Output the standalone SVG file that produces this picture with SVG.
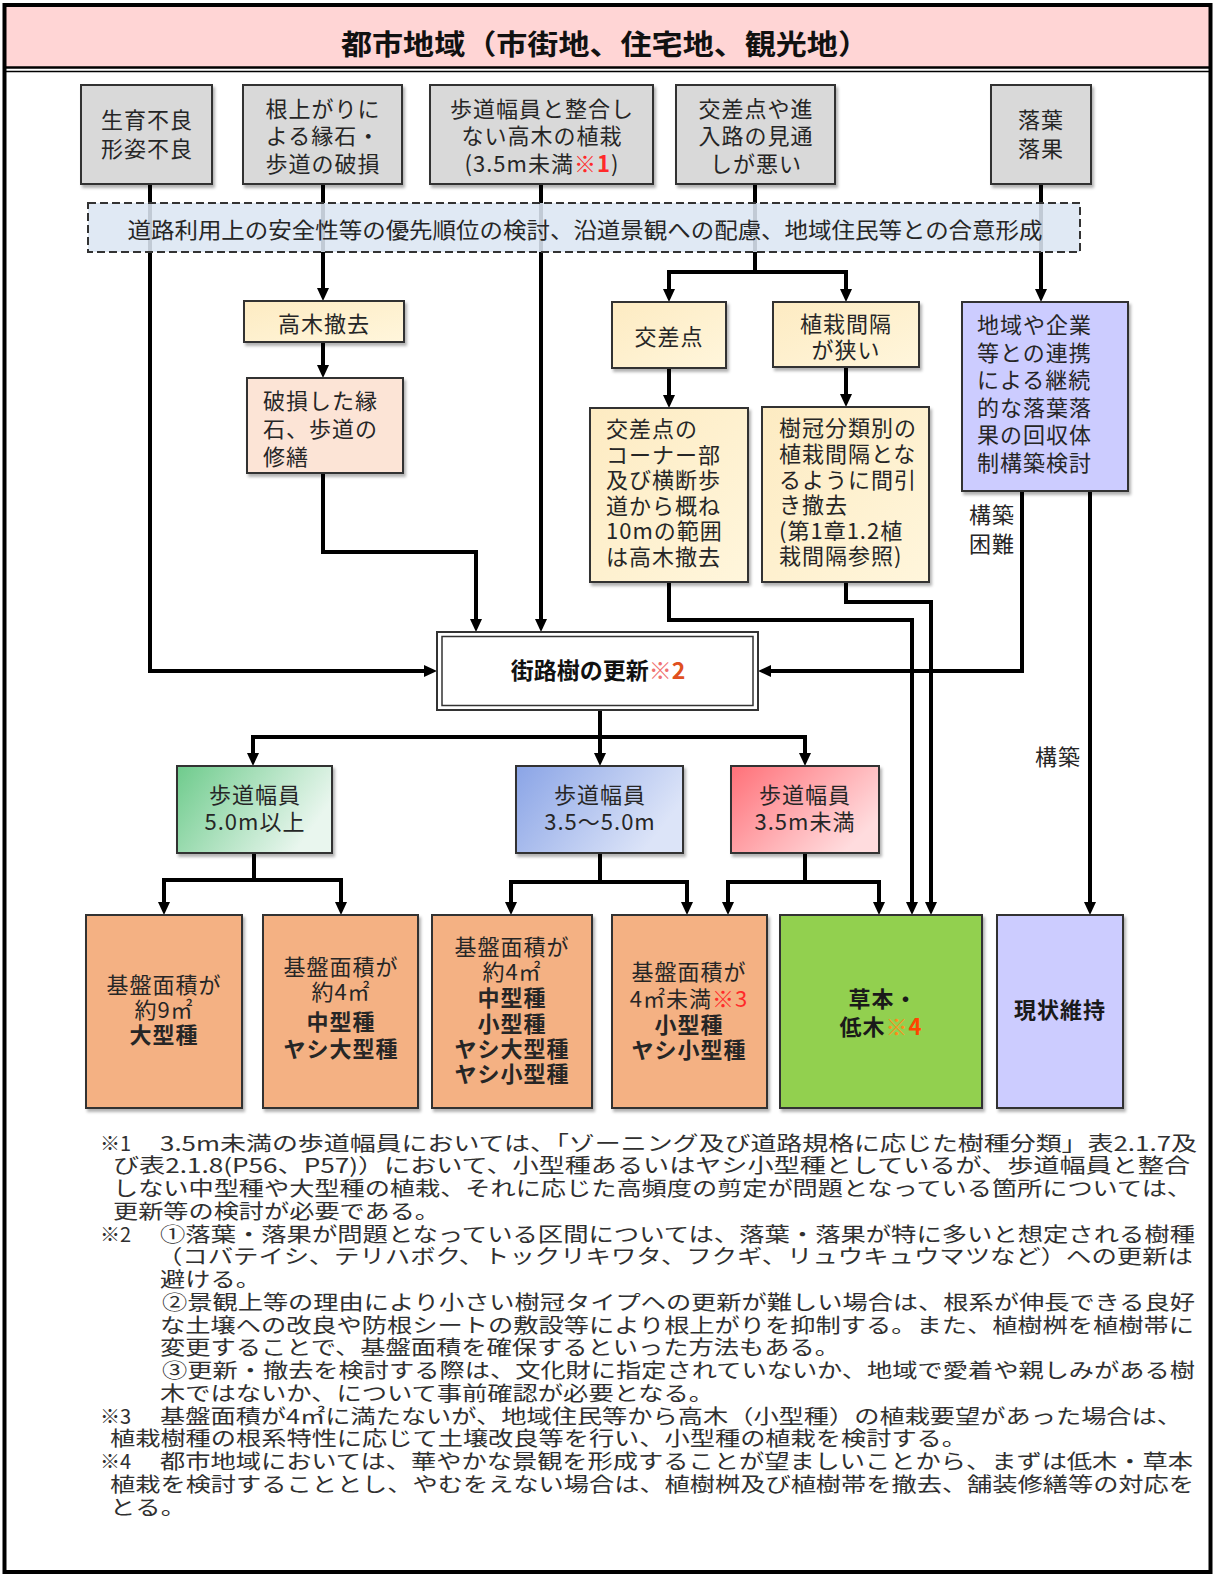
<svg xmlns="http://www.w3.org/2000/svg" width="1216" height="1577" viewBox="0 0 1216 1577">
<defs>
<style>
.t{font-family:"Noto Sans CJK JP","Noto Sans",sans-serif;font-size:22px;fill:#262626;dominant-baseline:central;letter-spacing:1px}
.c{text-anchor:middle}
.b{font-weight:bold}
.fn{font-size:20px;fill:#303030;letter-spacing:0}
.ln{fill:none;stroke:#000;stroke-width:4;stroke-linejoin:miter}
.ar{marker-end:url(#ah)}
.box{stroke:#333;stroke-width:2;filter:url(#sh)}
.gray{fill:#D9D9D9}
.yel{fill:url(#gy)}
.pch{fill:#FCE4D6}
.lav{fill:#CCCCFF}
.org{fill:#F4B183}
.red{fill:#FF2A2A}
</style>
<marker id="ah" viewBox="0 0 13 12" refX="3" refY="6" markerWidth="13" markerHeight="12" markerUnits="userSpaceOnUse" orient="auto"><path d="M0,0 L13,6 L0,12 z" fill="#000"/></marker>
<filter id="sh" x="-10%" y="-10%" width="130%" height="130%"><feDropShadow dx="2" dy="3" stdDeviation="1.5" flood-color="#000" flood-opacity="0.3"/></filter>
<linearGradient id="gy" x1="0" y1="0" x2="1" y2="1"><stop offset="0" stop-color="#FDEBC2"/><stop offset="1" stop-color="#FFF6DC"/></linearGradient>
<linearGradient id="gg" x1="0" y1="0" x2="1" y2="0.4"><stop offset="0" stop-color="#6ECB8C"/><stop offset="1" stop-color="#E9F6EE"/></linearGradient>
<linearGradient id="gb" x1="0" y1="0" x2="1" y2="0.4"><stop offset="0" stop-color="#8AA4E6"/><stop offset="1" stop-color="#DCE4F8"/></linearGradient>
<linearGradient id="gr" x1="0" y1="0" x2="1" y2="0.6"><stop offset="0" stop-color="#FF7078"/><stop offset="1" stop-color="#FFDCDE"/></linearGradient>
</defs>
<rect width="1216" height="1577" fill="#fff"/>
<g id="title">
<rect x="5" y="5" width="1206" height="62" fill="#FFD5D5"/>
<line x1="5" y1="67.5" x2="1211" y2="67.5" stroke="#000" stroke-width="2.5"/>
<line x1="5" y1="71.5" x2="1211" y2="71.5" stroke="#000" stroke-width="1.5"/>
<text class="t b c" x="605" y="43" style="font-size:28px;fill:#111;letter-spacing:0" textLength="528" lengthAdjust="spacingAndGlyphs">都市地域（市街地、住宅地、観光地）</text>
</g>
<g id="connectors">
<path class="ln ar" d="M150,184 V671 H427"/>
<path class="ln ar" d="M323,184 V291"/>
<path class="ln ar" d="M323,342 V368"/>
<path class="ln ar" d="M323,473 V552 H476 V622"/>
<path class="ln ar" d="M541,184 V622"/>
<path class="ln" d="M755,184 V272"/>
<path class="ln" d="M667,272 H848"/>
<path class="ln ar" d="M669,270 V292"/>
<path class="ln ar" d="M846,270 V292"/>
<path class="ln ar" d="M669,368 V398"/>
<path class="ln ar" d="M846,367 V397"/>
<path class="ln ar" d="M1041,184 V292"/>
<path class="ln ar" d="M669,582 V620 H912 V905"/>
<path class="ln ar" d="M846,582 V602 H931 V905"/>
<path class="ln ar" d="M1022,491 V671 H768"/>
<path class="ln ar" d="M1090,491 V905"/>
<path class="ln" d="M600,710 V737"/>
<path class="ln" d="M251,737 H807"/>
<path class="ln ar" d="M253,735 V756"/>
<path class="ln ar" d="M600,735 V756"/>
<path class="ln ar" d="M805,735 V756"/>
<path class="ln" d="M254,853 V880"/>
<path class="ln" d="M162,880 H343"/>
<path class="ln ar" d="M164,878 V905"/>
<path class="ln ar" d="M341,878 V905"/>
<path class="ln" d="M600,853 V882"/>
<path class="ln" d="M509,882 H689"/>
<path class="ln ar" d="M511,880 V905"/>
<path class="ln ar" d="M687,880 V905"/>
<path class="ln" d="M805,853 V882"/>
<path class="ln" d="M726,882 H881"/>
<path class="ln ar" d="M728,880 V905"/>
<path class="ln ar" d="M879,880 V905"/>
<text class="t" x="969" y="513">構築</text>
<text class="t" x="969" y="542">困難</text>
<text class="t" x="1035" y="755">構築</text>
</g>
<g id="n-seiiku">
<rect class="box gray" x="81" y="85" width="131" height="99"/>
<text class="t c" x="147" y="118">生育不良</text>
<text class="t c" x="147" y="147">形姿不良</text>
</g>
<g id="n-neagari">
<rect class="box gray" x="243" y="85" width="159" height="99"/>
<text class="t c" x="323" y="107">根上がりに</text>
<text class="t c" x="323" y="134">よる縁石・</text>
<text class="t c" x="323" y="162">歩道の破損</text>
</g>
<g id="n-fugou">
<rect class="box gray" x="430" y="85" width="223" height="99"/>
<text class="t c" x="542" y="107">歩道幅員と整合し</text>
<text class="t c" x="542" y="134">ない高木の植栽</text>
<text class="t c" x="542" y="162">(3.5m未満<tspan class="red">※</tspan><tspan class="red b">1</tspan>)</text>
</g>
<g id="n-mitoshi">
<rect class="box gray" x="676" y="85" width="159" height="99"/>
<text class="t c" x="756" y="107">交差点や進</text>
<text class="t c" x="756" y="134">入路の見通</text>
<text class="t c" x="756" y="162">しが悪い</text>
</g>
<g id="n-rakuyou">
<rect class="box gray" x="991" y="85" width="100" height="99"/>
<text class="t c" x="1041" y="118">落葉</text>
<text class="t c" x="1041" y="147">落果</text>
</g>
<g id="n-band">
<rect x="88" y="203" width="992" height="49" fill="#DCE6F2" fill-opacity="0.88" stroke="#333" stroke-width="2" stroke-dasharray="8 4"/>
<text class="t c" x="585" y="228" style="letter-spacing:0" textLength="915" lengthAdjust="spacingAndGlyphs">道路利用上の安全性等の優先順位の検討、沿道景観への配慮、地域住民等との合意形成</text>
</g>
<g id="n-koubokutekkyo">
<rect class="box yel" x="244" y="301" width="160" height="41"/>
<text class="t c" x="324" y="322">高木撤去</text>
</g>
<g id="n-hason">
<rect class="box pch" x="247" y="378" width="156" height="95"/>
<text class="t" x="263" y="399">破損した縁</text>
<text class="t" x="263" y="427">石、歩道の</text>
<text class="t" x="263" y="455">修繕</text>
</g>
<g id="n-kousaten">
<rect class="box yel" x="612" y="302" width="114" height="66"/>
<text class="t c" x="669" y="335">交差点</text>
</g>
<g id="n-kankaku">
<rect class="box yel" x="773" y="302" width="146" height="65"/>
<text class="t c" x="846" y="322">植栽間隔</text>
<text class="t c" x="846" y="348">が狭い</text>
</g>
<g id="n-kousaten-detail">
<rect class="box yel" x="590" y="408" width="158" height="174"/>
<text class="t" x="606" y="427">交差点の</text>
<text class="t" x="606" y="452.6">コーナー部</text>
<text class="t" x="606" y="478">及び横断歩</text>
<text class="t" x="606" y="504">道から概ね</text>
<text class="t" x="606" y="529">10mの範囲</text>
<text class="t" x="606" y="555">は高木撤去</text>
</g>
<g id="n-kankaku-detail">
<rect class="box yel" x="762" y="407" width="167" height="175"/>
<text class="t" x="779" y="426">樹冠分類別の</text>
<text class="t" x="779" y="452">植栽間隔とな</text>
<text class="t" x="779" y="477.5">るように間引</text>
<text class="t" x="779" y="503">き撤去</text>
<text class="t" x="779" y="528.5">(第1章1.2植</text>
<text class="t" x="779" y="554">栽間隔参照)</text>
</g>
<g id="n-renkei">
<rect class="box lav" x="962" y="302" width="166" height="189"/>
<text class="t" x="977" y="323">地域や企業</text>
<text class="t" x="977" y="351">等との連携</text>
<text class="t" x="977" y="378">による継続</text>
<text class="t" x="977" y="406">的な落葉落</text>
<text class="t" x="977" y="433">果の回収体</text>
<text class="t" x="977" y="461">制構築検討</text>
</g>
<g id="n-koushin">
<rect x="437" y="632" width="321" height="78" fill="#fff" stroke="#333" stroke-width="2"/>
<rect x="442" y="636.5" width="311" height="69" fill="none" stroke="#333" stroke-width="1.5"/>
<text class="t b c" x="598" y="669" style="font-size:23px;fill:#111;letter-spacing:0">街路樹の更新<tspan fill="#F07070">※</tspan><tspan fill="#E05020">2</tspan></text>
</g>
<g id="n-w50">
<rect class="box" x="177" y="766" width="155" height="87" fill="url(#gg)"/>
<text class="t c" x="255" y="793">歩道幅員</text>
<text class="t c" x="255" y="820">5.0m以上</text>
</g>
<g id="n-w35-50">
<rect class="box" x="516" y="766" width="167" height="87" fill="url(#gb)"/>
<text class="t c" x="600" y="793">歩道幅員</text>
<text class="t c" x="600" y="820">3.5～5.0m</text>
</g>
<g id="n-w35">
<rect class="box" x="731" y="766" width="148" height="87" fill="url(#gr)"/>
<text class="t c" x="805" y="793">歩道幅員</text>
<text class="t c" x="805" y="820">3.5m未満</text>
</g>
<g id="n-ogata">
<rect class="box org" x="86" y="915" width="156" height="193"/>
<text class="t c" x="164" y="983">基盤面積が</text>
<text class="t c" x="164" y="1008">約9㎡</text>
<text class="t c b" x="164" y="1033">大型種</text>
</g>
<g id="n-chugata">
<rect class="box org" x="263" y="915" width="155" height="193"/>
<text class="t c" x="341" y="965">基盤面積が</text>
<text class="t c" x="341" y="990">約4㎡</text>
<text class="t c b" x="341" y="1020">中型種</text>
<text class="t c b" x="341" y="1047">ヤシ大型種</text>
</g>
<g id="n-chukogata">
<rect class="box org" x="432" y="915" width="160" height="193"/>
<text class="t c" x="512" y="945">基盤面積が</text>
<text class="t c" x="512" y="970">約4㎡</text>
<text class="t c b" x="512" y="996">中型種</text>
<text class="t c b" x="512" y="1022">小型種</text>
<text class="t c b" x="512" y="1047">ヤシ大型種</text>
<text class="t c b" x="512" y="1072">ヤシ小型種</text>
</g>
<g id="n-kogata">
<rect class="box org" x="612" y="915" width="155" height="193"/>
<text class="t c" x="689" y="970">基盤面積が</text>
<text class="t c" x="689" y="997">4㎡未満<tspan class="red">※3</tspan></text>
<text class="t c b" x="689" y="1023">小型種</text>
<text class="t c b" x="689" y="1048">ヤシ小型種</text>
</g>
<g id="n-soumoku">
<rect class="box" x="780" y="915" width="202" height="193" fill="#92D050"/>
<text class="t c b" x="883" y="997" style="fill:#1a1a1a">草本・</text>
<text class="t c b" x="881" y="1025" style="fill:#1a1a1a">低木<tspan fill="#FF8C1A">※</tspan><tspan fill="#FF4500">4</tspan></text>
</g>
<g id="n-genjo">
<rect class="box lav" x="997" y="915" width="126" height="193"/>
<text class="t c b" x="1060" y="1008" style="fill:#1a1a1a">現状維持</text>
</g>
<g id="notes">
<text class="t fn" x="100" y="1142">※1</text>
<text class="t fn" x="160" y="1142" textLength="1037" lengthAdjust="spacingAndGlyphs">3.5m未満の歩道幅員においては、「ゾーニング及び道路規格に応じた樹種分類」表2.1.7及</text>
<text class="t fn" x="113" y="1164.75" textLength="1077" lengthAdjust="spacingAndGlyphs">び表2.1.8(P56、P57)）において、小型種あるいはヤシ小型種としているが、歩道幅員と整合</text>
<text class="t fn" x="113" y="1187.5" textLength="1079" lengthAdjust="spacingAndGlyphs">しない中型種や大型種の植栽、それに応じた高頻度の剪定が問題となっている箇所については、</text>
<text class="t fn" x="113" y="1210.25" textLength="327" lengthAdjust="spacingAndGlyphs">更新等の検討が必要である。</text>
<text class="t fn" x="100" y="1233">※2</text>
<text class="t fn" x="160" y="1233" textLength="1035" lengthAdjust="spacingAndGlyphs">①落葉・落果が問題となっている区間については、落葉・落果が特に多いと想定される樹種</text>
<text class="t fn" x="157" y="1255.75" textLength="1036" lengthAdjust="spacingAndGlyphs">（コバテイシ、テリハボク、トックリキワタ、フクギ、リュウキュウマツなど）への更新は</text>
<text class="t fn" x="160" y="1278.5" textLength="101" lengthAdjust="spacingAndGlyphs">避ける。</text>
<text class="t fn" x="162" y="1301.25" textLength="1033" lengthAdjust="spacingAndGlyphs">②景観上等の理由により小さい樹冠タイプへの更新が難しい場合は、根系が伸長できる良好</text>
<text class="t fn" x="160" y="1324" textLength="1034" lengthAdjust="spacingAndGlyphs">な土壌への改良や防根シートの敷設等により根上がりを抑制する。また、植樹桝を植樹帯に</text>
<text class="t fn" x="160" y="1346.75" textLength="680" lengthAdjust="spacingAndGlyphs">変更することで、基盤面積を確保するといった方法もある。</text>
<text class="t fn" x="162" y="1369.5" textLength="1033" lengthAdjust="spacingAndGlyphs">③更新・撤去を検討する際は、文化財に指定されていないか、地域で愛着や親しみがある樹</text>
<text class="t fn" x="160" y="1392.25" textLength="554" lengthAdjust="spacingAndGlyphs">木ではないか、について事前確認が必要となる。</text>
<text class="t fn" x="100" y="1415">※3</text>
<text class="t fn" x="160" y="1415" textLength="1022" lengthAdjust="spacingAndGlyphs">基盤面積が4㎡に満たないが、地域住民等から高木（小型種）の植栽要望があった場合は、</text>
<text class="t fn" x="110" y="1437.75" textLength="857" lengthAdjust="spacingAndGlyphs">植栽樹種の根系特性に応じて土壌改良等を行い、小型種の植栽を検討する。</text>
<text class="t fn" x="100" y="1460.5">※4</text>
<text class="t fn" x="160" y="1460.5" textLength="1033" lengthAdjust="spacingAndGlyphs">都市地域においては、華やかな景観を形成することが望ましいことから、まずは低木・草本</text>
<text class="t fn" x="110" y="1483.25" textLength="1084" lengthAdjust="spacingAndGlyphs">植栽を検討することとし、やむをえない場合は、植樹桝及び植樹帯を撤去、舗装修繕等の対応を</text>
<text class="t fn" x="110" y="1506" textLength="76" lengthAdjust="spacingAndGlyphs">とる。</text>
</g>
<rect x="4.5" y="5" width="1206" height="1567" fill="none" stroke="#000" stroke-width="4"/>
</svg>
